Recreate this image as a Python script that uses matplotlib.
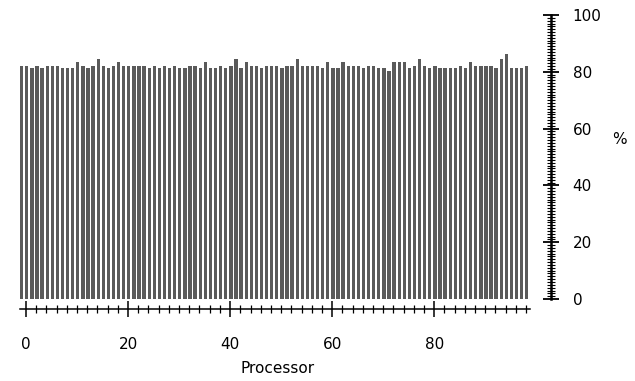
import matplotlib
matplotlib.use("Agg")
import matplotlib.pyplot as plt
from matplotlib.ticker import FixedLocator

# Per-processor utilisation (%)
processors = list(range(100))
utilisation = [
    82.2, 82.2, 81.5, 82.2, 81.5, 82.2, 82.2, 82.2, 81.5, 81.5,
    81.5, 83.4, 82.2, 81.5, 82.2, 84.6, 82.2, 81.5, 82.2, 83.4,
    82.2, 82.2, 82.2, 82.2, 82.2, 81.5, 82.2, 81.5, 82.2, 81.5,
    82.2, 81.5, 81.5, 82.2, 82.2, 81.5, 83.4, 81.5, 81.5, 82.2,
    81.5, 82.2, 84.6, 81.5, 83.4, 82.2, 82.2, 81.5, 82.2, 82.2,
    82.2, 81.5, 82.2, 82.2, 84.6, 82.2, 82.2, 82.2, 82.2, 81.5,
    83.4, 81.5, 81.5, 83.4, 82.2, 82.2, 82.2, 81.5, 82.2, 82.2,
    81.5, 81.5, 80.3, 83.4, 83.4, 83.4, 81.5, 82.2, 84.6, 82.2,
    81.5, 82.2, 81.5, 81.5, 81.5, 81.5, 82.2, 81.5, 83.4, 82.2,
    82.2, 82.2, 82.2, 81.5, 84.6, 86.3, 81.5, 81.5, 81.5, 82.2,
]
x_ticks = [0, 20, 40, 60, 80]
y_ticks = [0, 20, 40, 60, 80, 100]

fig = plt.figure(figsize=(6.35, 3.81), dpi=100)
W, H = 635, 381
left_px, right_px, top_px, bottom_px = 20, 551, 15, 309
ax = fig.add_axes([left_px / W, 1 - bottom_px / H,
                   (right_px - left_px) / W, (bottom_px - top_px) / H])

# bars sit just left of each processor's tick
bar_offset = -0.85
ax.bar([p + bar_offset for p in processors], utilisation, width=0.65,
       color="#5a5a5a", linewidth=0)

ax.set_xlim(-1.18, 102.9)
ax.set_ylim(-3.5, 100)

for s in ("top", "left"):
    ax.spines[s].set_visible(False)
ax.spines["bottom"].set_bounds(-1.18, 98.8)
ax.spines["bottom"].set_linewidth(1.1)
ax.spines["right"].set_bounds(0, 100)
ax.spines["right"].set_linewidth(1.8)

# x axis: majors every 20, minors every 2, crossing the line
ax.xaxis.set_major_locator(FixedLocator(x_ticks))
ax.xaxis.set_minor_locator(FixedLocator(list(range(0, 99, 2))))
ax.tick_params(axis="x", which="major", direction="inout", length=11,
               width=1.1, pad=15, labelsize=11, color="black")
ax.tick_params(axis="x", which="minor", direction="inout", length=5.8,
               width=0.9, color="black")

# y axis on the right: majors every 20, minors every 1
ax.yaxis.tick_right()
ax.yaxis.set_major_locator(FixedLocator(y_ticks))
ax.yaxis.set_minor_locator(FixedLocator(list(range(0, 101))))
ax.tick_params(axis="y", which="major", direction="inout", length=11,
               width=1.3, pad=10, labelsize=11, color="black")
ax.tick_params(axis="y", which="minor", direction="inout", length=5.5,
               width=0.8, color="black")

ax.set_xlabel("Processor", fontsize=11)
ax.xaxis.set_label_coords((278 - left_px) / (right_px - left_px),
                          -(361 - bottom_px) / (bottom_px - top_px))
ax.yaxis.set_label_position("right")
ax.set_ylabel("%", fontsize=11, rotation=0, va="center", ha="center")
ax.yaxis.set_label_coords((619 - left_px) / (right_px - left_px),
                          (bottom_px - 140) / (bottom_px - top_px))

fig.savefig("out.png", dpi=100)
